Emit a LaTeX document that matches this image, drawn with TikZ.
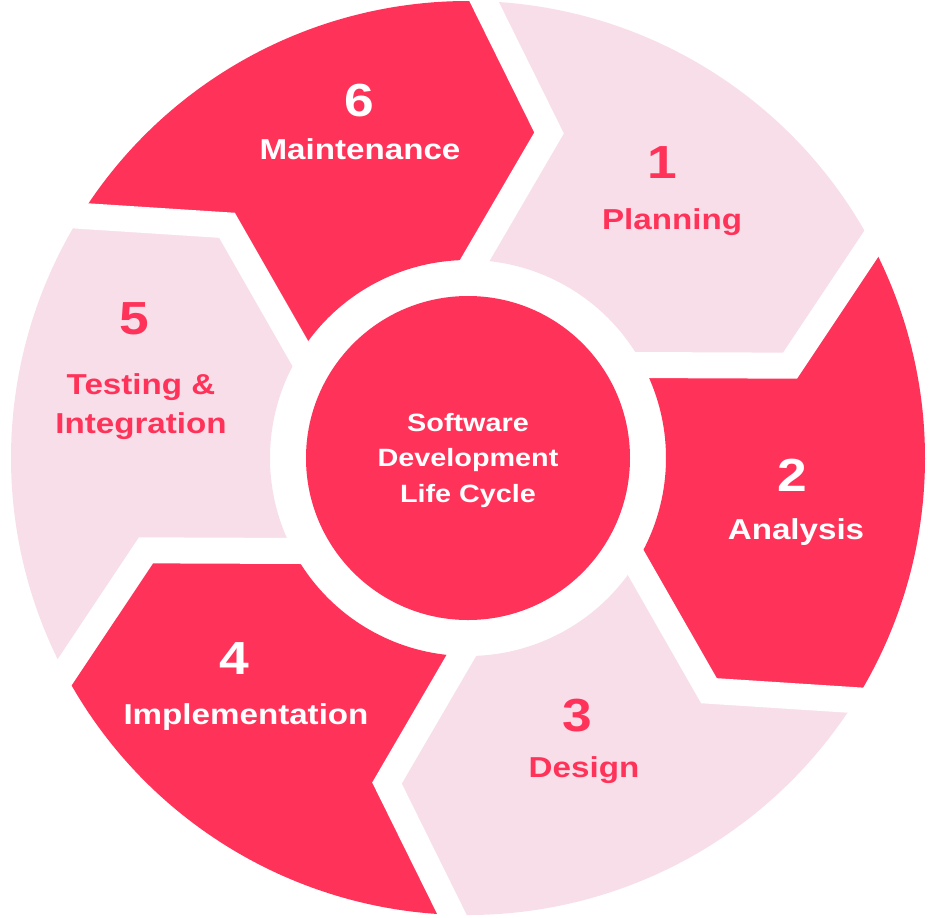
\documentclass[tikz,border=0pt]{standalone}
\usepackage{fontspec}
\setmainfont{Liberation Sans}[FakeStretch=1.15]
\usepackage{tikz}
\usetikzlibrary{calc}
\definecolor{stageColor}{HTML}{FF3359}
\definecolor{stageColorBis}{HTML}{F8DEE9}

\begin{document}
\begin{tikzpicture}[x=0.025cm,y=0.025cm]

          \tikzstyle{darkStage} = [fill=stageColor];
          \tikzstyle{lightStage} = [fill=stageColorBis];
          \tikzstyle{gapEdge} = [white, line width=18.5pt, line join=miter];

          \tikzstyle{numberNode} = [anchor=base, font=\bfseries\fontsize{33}{33}\selectfont];
          \tikzstyle{labelNode} = [anchor=base, align=center, font=\bfseries\fontsize{20.5}{27.7}\selectfont];
          \tikzstyle{hubNode} = [anchor=base, align=center, font=\bfseries\fontsize{17.8}{24.9}\selectfont];
          \tikzstyle{onDark} = [white];
          \tikzstyle{onLight} = [stageColor];

          \useasboundingbox (-468,-459) rectangle (470,458);

          \coordinate (out61) at (88:457);
          \coordinate (tip61) at (76:335);
          \coordinate (in61) at (88:198);
          \coordinate (out12) at (28:457);
          \coordinate (tip12) at (16:335);
          \coordinate (in12) at (28:198);
          \coordinate (out23) at (-32:457);
          \coordinate (tip23) at (-44:335);
          \coordinate (in23) at (-32:198);
          \coordinate (out34) at (-92:457);
          \coordinate (tip34) at (-104:335);
          \coordinate (in34) at (-92:198);
          \coordinate (out45) at (-152:457);
          \coordinate (tip45) at (-164:335);
          \coordinate (in45) at (-152:198);
          \coordinate (out56) at (148:457);
          \coordinate (tip56) at (136:335);
          \coordinate (in56) at (148:198);

          \fill[lightStage] (out61) arc[start angle=88, end angle=28, radius=457] -- (tip12) -- (in12) arc[start angle=28, end angle=88, radius=198] -- (tip61) -- cycle;
          \fill[darkStage] (out12) arc[start angle=28, end angle=-32, radius=457] -- (tip23) -- (in23) arc[start angle=-32, end angle=28, radius=198] -- (tip12) -- cycle;
          \fill[lightStage] (out23) arc[start angle=-32, end angle=-92, radius=457] -- (tip34) -- (in34) arc[start angle=-92, end angle=-32, radius=198] -- (tip23) -- cycle;
          \fill[darkStage] (out34) arc[start angle=-92, end angle=-152, radius=457] -- (tip45) -- (in45) arc[start angle=-152, end angle=-92, radius=198] -- (tip34) -- cycle;
          \fill[lightStage] (out45) arc[start angle=-152, end angle=-212, radius=457] -- (tip56) -- (in56) arc[start angle=-212, end angle=-152, radius=198] -- (tip45) -- cycle;
          \fill[darkStage] (out56) arc[start angle=148, end angle=88, radius=457] -- (tip61) -- (in61) arc[start angle=88, end angle=148, radius=198] -- (tip56) -- cycle;

          \draw[gapEdge] ($(tip61)!1.2!(out61)$) -- (tip61) -- ($(tip61)!1.1!(in61)$);
          \draw[gapEdge] ($(tip12)!1.2!(out12)$) -- (tip12) -- ($(tip12)!1.1!(in12)$);
          \draw[gapEdge] ($(tip23)!1.2!(out23)$) -- (tip23) -- ($(tip23)!1.1!(in23)$);
          \draw[gapEdge] ($(tip34)!1.2!(out34)$) -- (tip34) -- ($(tip34)!1.1!(in34)$);
          \draw[gapEdge] ($(tip45)!1.2!(out45)$) -- (tip45) -- ($(tip45)!1.1!(in45)$);
          \draw[gapEdge] ($(tip56)!1.2!(out56)$) -- (tip56) -- ($(tip56)!1.1!(in56)$);

          \fill[darkStage] (0,0) circle[radius=162];

          \node[hubNode, onDark] (hub) at (0,-44) {Software\\Development\\Life Cycle};

          \node[numberNode, onLight] (num1) at (194,280) {1};
          \node[labelNode, onLight] (planning) at (204,229) {Planning};
          \node[numberNode, onDark] (num2) at (324,-33) {2};
          \node[labelNode, onDark] (analysis) at (328,-81) {Analysis};
          \node[numberNode, onLight] (num3) at (109,-273) {3};
          \node[labelNode, onLight] (design) at (116,-319) {Design};
          \node[numberNode, onDark] (num4) at (-234,-216) {4};
          \node[labelNode, onDark] (implementation) at (-222,-266) {Implementation};
          \node[numberNode, onLight] (num5) at (-334,124) {5};
          \node[labelNode, onLight] (testing) at (-327,25) {Testing \&\\Integration};
          \node[numberNode, onDark] (num6) at (-109,342) {6};
          \node[labelNode, onDark] (maintenance) at (-108,299) {Maintenance};
        \end{tikzpicture}
\end{document}
